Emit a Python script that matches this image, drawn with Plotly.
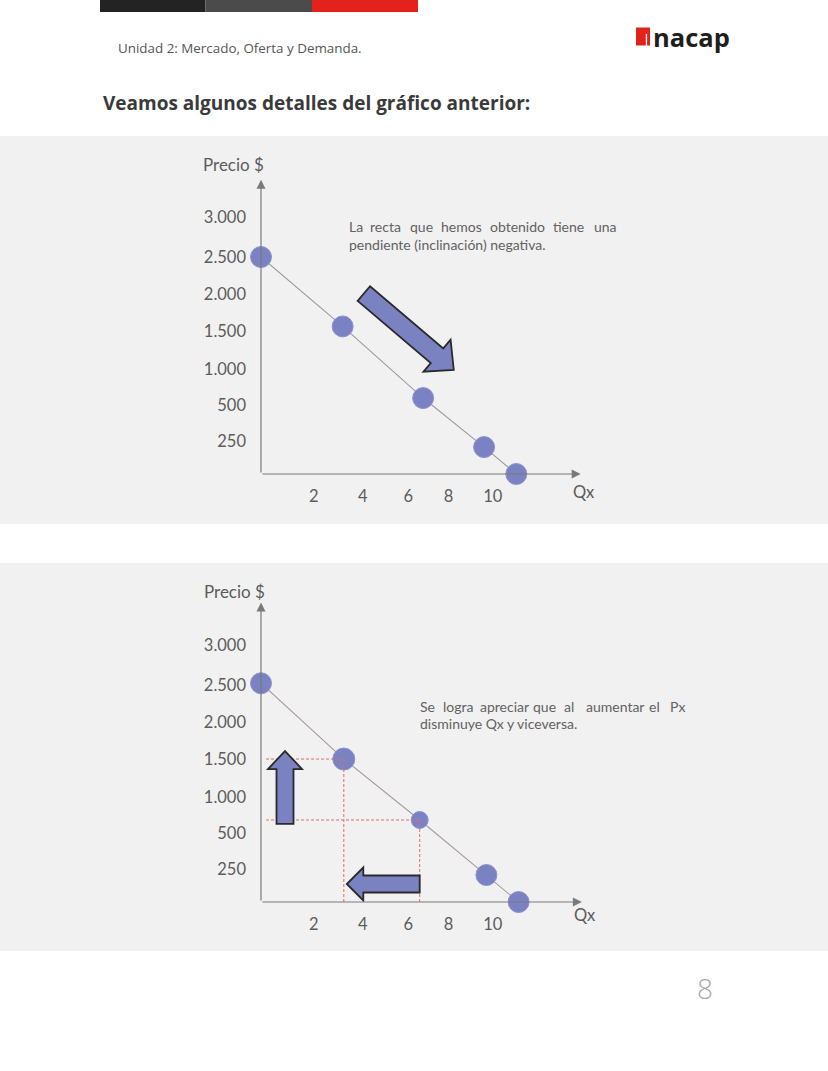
import math
import plotly.graph_objects as go

W, H = 828, 1071

# ---------------- data ----------------
price_labels = ["3.000", "2.500", "2.000", "1.500", "1.000", "500", "250"]
qty_labels = ["2", "4", "6", "8", "10"]
q_top = [0, 3.55, 7.05, 9.7, 11.1]
p_top = [2500, 1700, 875, 310, 0]
q_bot = [0, 3.6, 6.9, 9.8, 11.2]
p_bot = [2520, 1647, 945, 311, 0]

header_text = "Unidad 2: Mercado, Oferta y Demanda."
title_text = "Veamos algunos detalles del gráfico anterior:"
note_top = ["La recta que hemos obtenido tiene una", "pendiente (inclinación) negativa."]
note_bot = ["Se logra apreciar que al aumentar el Px", "disminuye Qx y viceversa."]
y_title = "Precio $"
x_title = "Qx"
page_number = "8"

# ---------------- layout constants ----------------
price_tick_pos = [2955, 2497, 2076, 1641, 1207, 797, 383]
qty_tick_pos = [2.3, 4.42, 6.4, 8.15, 10.08]
SX, SY = 23.0, 0.0868          # px per unit
X0 = 261                        # pixel x of origin
panels = {1: dict(y0=474, xmax=13.9, ymax=3390),
          2: dict(y0=902, xmax=13.95, ymax=3450)}
top_sizes = [21, 21, 21, 21, 21]
bot_sizes = [21, 22, 17, 21, 21]
PT_COLOR = "#7b82c3"
ARROW_FILL = "#7b82c2"
TXT = "#5c5c5c"


def px(x):
    return x / W


def py(y):
    return 1 - y / H


def d2p(k, q, p):
    return X0 + q * SX, panels[k]["y0"] - p * SY


def p2d(k, x, y):
    return (x - X0) / SX, (panels[k]["y0"] - y) / SY


def arrow_pts(tail, tip, sw, hw, hl):
    dx, dy = tip[0] - tail[0], tip[1] - tail[1]
    L = math.hypot(dx, dy)
    d = (dx / L, dy / L)
    n = (-d[1], d[0])
    B = (tip[0] - hl * d[0], tip[1] - hl * d[1])
    def P(b, s):
        return (b[0] + s * n[0], b[1] + s * n[1])
    return [P(tail, sw), P(B, sw), P(B, hw), tip, P(B, -hw), P(B, -sw), P(tail, -sw)]


def path_data(k, pts):
    dpts = [p2d(k, x, y) for x, y in pts]
    return "M " + " L ".join(f"{a:.4f},{b:.2f}" for a, b in dpts) + " Z"


fig = go.Figure()

shapes = []
annotations = []

# header bars
for x0, x1, c in [(100, 205.5, "#232323"), (205.5, 312, "#4b4b4b"), (312, 418, "#e3231b")]:
    shapes.append(dict(type="rect", xref="paper", yref="paper", x0=px(x0), x1=px(x1),
                       y0=py(12), y1=py(0), fillcolor=c, line=dict(width=0), layer="below"))
# panels
for ya, yb in [(136, 524), (563, 951)]:
    shapes.append(dict(type="rect", xref="paper", yref="paper", x0=0, x1=1,
                       y0=py(yb), y1=py(ya), fillcolor="#f1f1f1", line=dict(width=0), layer="below"))
# logo
shapes.append(dict(type="rect", xref="paper", yref="paper", x0=px(636), x1=px(650),
                   y0=py(45.5), y1=py(27.5), fillcolor="#e3231b", line=dict(width=0)))
shapes.append(dict(type="rect", xref="paper", yref="paper", x0=px(645.8), x1=px(647.1),
                   y0=py(46), y1=py(33.8), fillcolor="white", line=dict(width=0)))
annotations.append(dict(text="<b>nacap</b>", xref="paper", yref="paper", x=px(650.5), y=py(37.5),
                        xanchor="left", yanchor="middle", showarrow=False,
                        font=dict(family="Open Sans", size=25.5, color="#1e1e1e")))
annotations.append(dict(text=header_text, xref="paper", yref="paper", x=px(116), y=py(48),
                        xanchor="left", yanchor="middle", showarrow=False,
                        font=dict(family="Open Sans", size=13.4, color="#555555")))
annotations.append(dict(text="<b>" + title_text + "</b>", xref="paper", yref="paper", x=px(101), y=py(103),
                        xanchor="left", yanchor="middle", showarrow=False,
                        font=dict(family="Open Sans", size=19, color="#3a3a3a")))
annotations.append(dict(text=page_number, xref="paper", yref="paper", x=px(705), y=py(988),
                        xanchor="center", yanchor="middle", showarrow=False,
                        font=dict(family="Open Sans", size=28, color="#a8a8a8", weight=300)))

# traces
for k, (q, p, sizes, lc) in enumerate([(q_top, p_top, top_sizes, "#9c9c9c"),
                                       (q_bot, p_bot, bot_sizes, "#a89a9e")], start=1):
    fig.add_trace(go.Scatter(x=q, y=p, mode="lines+markers", xaxis=f"x{'' if k == 1 else k}",
                             yaxis=f"y{'' if k == 1 else k}", cliponaxis=False, hoverinfo="skip",
                             line=dict(color=lc, width=1.1),
                             marker=dict(size=sizes, color=PT_COLOR, opacity=1,
                                         line=dict(color="#8d93cd", width=1)),
                             showlegend=False))

# axes
axis_common = dict(showgrid=False, zeroline=False, showline=False, ticks="",
                   tickfont=dict(family="Lato", size=16.5, color=TXT))
layout_axes = {}
for k in (1, 2):
    pnl = panels[k]
    sfx = "" if k == 1 else str(k)
    xd = [X0 / W, (X0 + pnl["xmax"] * SX) / W]
    yd = [(H - pnl["y0"]) / H, (H - pnl["y0"] + pnl["ymax"] * SY) / H]
    layout_axes[f"xaxis{sfx}"] = dict(axis_common, domain=xd, range=[0, pnl["xmax"]],
                                      tickvals=qty_tick_pos, ticktext=qty_labels,
                                      ticklabelstandoff=10, anchor=f"y{sfx}")
    layout_axes[f"yaxis{sfx}"] = dict(axis_common, domain=yd, range=[0, pnl["ymax"]],
                                      tickvals=price_tick_pos, ticktext=price_labels,
                                      ticklabelstandoff=14, anchor=f"x{sfx}")
    xr, yr = f"x{sfx}", f"y{sfx}"
    # axis lines with arrowheads
    annotations.append(dict(x=0, y=pnl["ymax"], ax=0, ay=0, xref=xr, yref=yr, axref=xr, ayref=yr,
                            text="", showarrow=True, arrowhead=2, arrowsize=1.5, arrowwidth=1.2,
                            arrowcolor="#7a7a7a", standoff=0))
    annotations.append(dict(x=pnl["xmax"], y=0, ax=0, ay=0, xref=xr, yref=yr, axref=xr, ayref=yr,
                            text="", showarrow=True, arrowhead=2, arrowsize=1.5, arrowwidth=1.2,
                            arrowcolor="#7a7a7a", standoff=0))

# axis titles
for (xp, yp) in [(233.5, 164), (234.5, 591)]:
    annotations.append(dict(text=y_title, xref="paper", yref="paper", x=px(xp), y=py(yp),
                            xanchor="center", yanchor="middle", showarrow=False,
                            font=dict(family="Lato", size=17, color=TXT)))
for (xp, yp) in [(584, 492), (585, 915)]:
    annotations.append(dict(text=x_title, xref="paper", yref="paper", x=px(xp), y=py(yp),
                            xanchor="center", yanchor="middle", showarrow=False,
                            font=dict(family="Lato", size=16.5, color=TXT)))

# justified notes (word positions in pixels)
def add_words(line, xs, y):
    for w, x in zip(line.split(" "), xs):
        annotations.append(dict(text=w, xref="paper", yref="paper", x=px(x), y=py(y),
                                xanchor="left", yanchor="middle", showarrow=False,
                                font=dict(family="Lato", size=14, color="#626262")))

add_words(note_top[0], [347.3, 368.3, 408.3, 439.3, 487.7, 551, 591.7], 226.7)
annotations.append(dict(text=note_top[1], xref="paper", yref="paper", x=px(347.3), y=py(245),
                        xanchor="left", yanchor="middle", showarrow=False,
                        font=dict(family="Lato", size=14, color="#626262")))
add_words(note_bot[0], [417.7, 440.7, 478, 531, 561.7, 584.3, 646.7, 668.3], 706.7)
annotations.append(dict(text=note_bot[1], xref="paper", yref="paper", x=px(417.7), y=py(723.3),
                        xanchor="left", yanchor="middle", showarrow=False,
                        font=dict(family="Lato", size=14, color="#626262")))

# dashed guides in bottom chart (from data points)
for i in (1, 2):
    shapes.append(dict(type="line", xref="x2", yref="y2", x0=0.22, x1=q_bot[i], y0=p_bot[i], y1=p_bot[i],
                       line=dict(color="#e06a6a", width=1, dash="3px,2px"), layer="above"))
    shapes.append(dict(type="line", xref="x2", yref="y2", x0=q_bot[i], x1=q_bot[i], y0=0, y1=p_bot[i],
                       line=dict(color="#e06a6a", width=1, dash="3px,2px"), layer="above"))

# diagonal arrow in top chart (parallel to the demand line)
a = d2p(1, q_top[0], p_top[0]); b = d2p(1, q_top[-1], p_top[-1])
L = math.hypot(b[0] - a[0], b[1] - a[1])
d = ((b[0] - a[0]) / L, (b[1] - a[1]) / L)
nrm = (d[1], -d[0])
m1 = d2p(1, q_top[1], p_top[1]); m2 = d2p(1, q_top[2], p_top[2])
M = ((m1[0] + m2[0]) / 2 + 40 * nrm[0], (m1[1] + m2[1]) / 2 + 40 * nrm[1])
tail = (M[0] - 59 * d[0], M[1] - 59 * d[1])
tip = (M[0] + 59 * d[0], M[1] + 59 * d[1])
shapes.append(dict(type="path", xref="x", yref="y", path=path_data(1, arrow_pts(tail, tip, 9.6, 21, 22)),
                   fillcolor=ARROW_FILL, line=dict(color="#2a2a2a", width=1.8)))

# up arrow (price rises) and left arrow (quantity falls) in bottom chart
_, yb = d2p(2, 0, p_bot[2]); _, yt = d2p(2, 0, p_bot[1])
shapes.append(dict(type="path", xref="x2", yref="y2",
                   path=path_data(2, arrow_pts((285, yb + 4), (285, yt - 8), 8.5, 17, 18)),
                   fillcolor=ARROW_FILL, line=dict(color="#2a2a2a", width=1.8)))
xa, _ = d2p(2, q_bot[2], 0); xb, _ = d2p(2, q_bot[1], 0)
shapes.append(dict(type="path", xref="x2", yref="y2",
                   path=path_data(2, arrow_pts((xa, 884), (xb + 3, 884), 8.5, 16.5, 16.5)),
                   fillcolor=ARROW_FILL, line=dict(color="#2a2a2a", width=1.8)))

fig.update_layout(width=W, height=H, autosize=False, margin=dict(l=0, r=0, t=0, b=0, pad=0),
                  paper_bgcolor="white", plot_bgcolor="rgba(0,0,0,0)",
                  shapes=shapes, annotations=annotations, **layout_axes)

fig.write_html("out.html")
